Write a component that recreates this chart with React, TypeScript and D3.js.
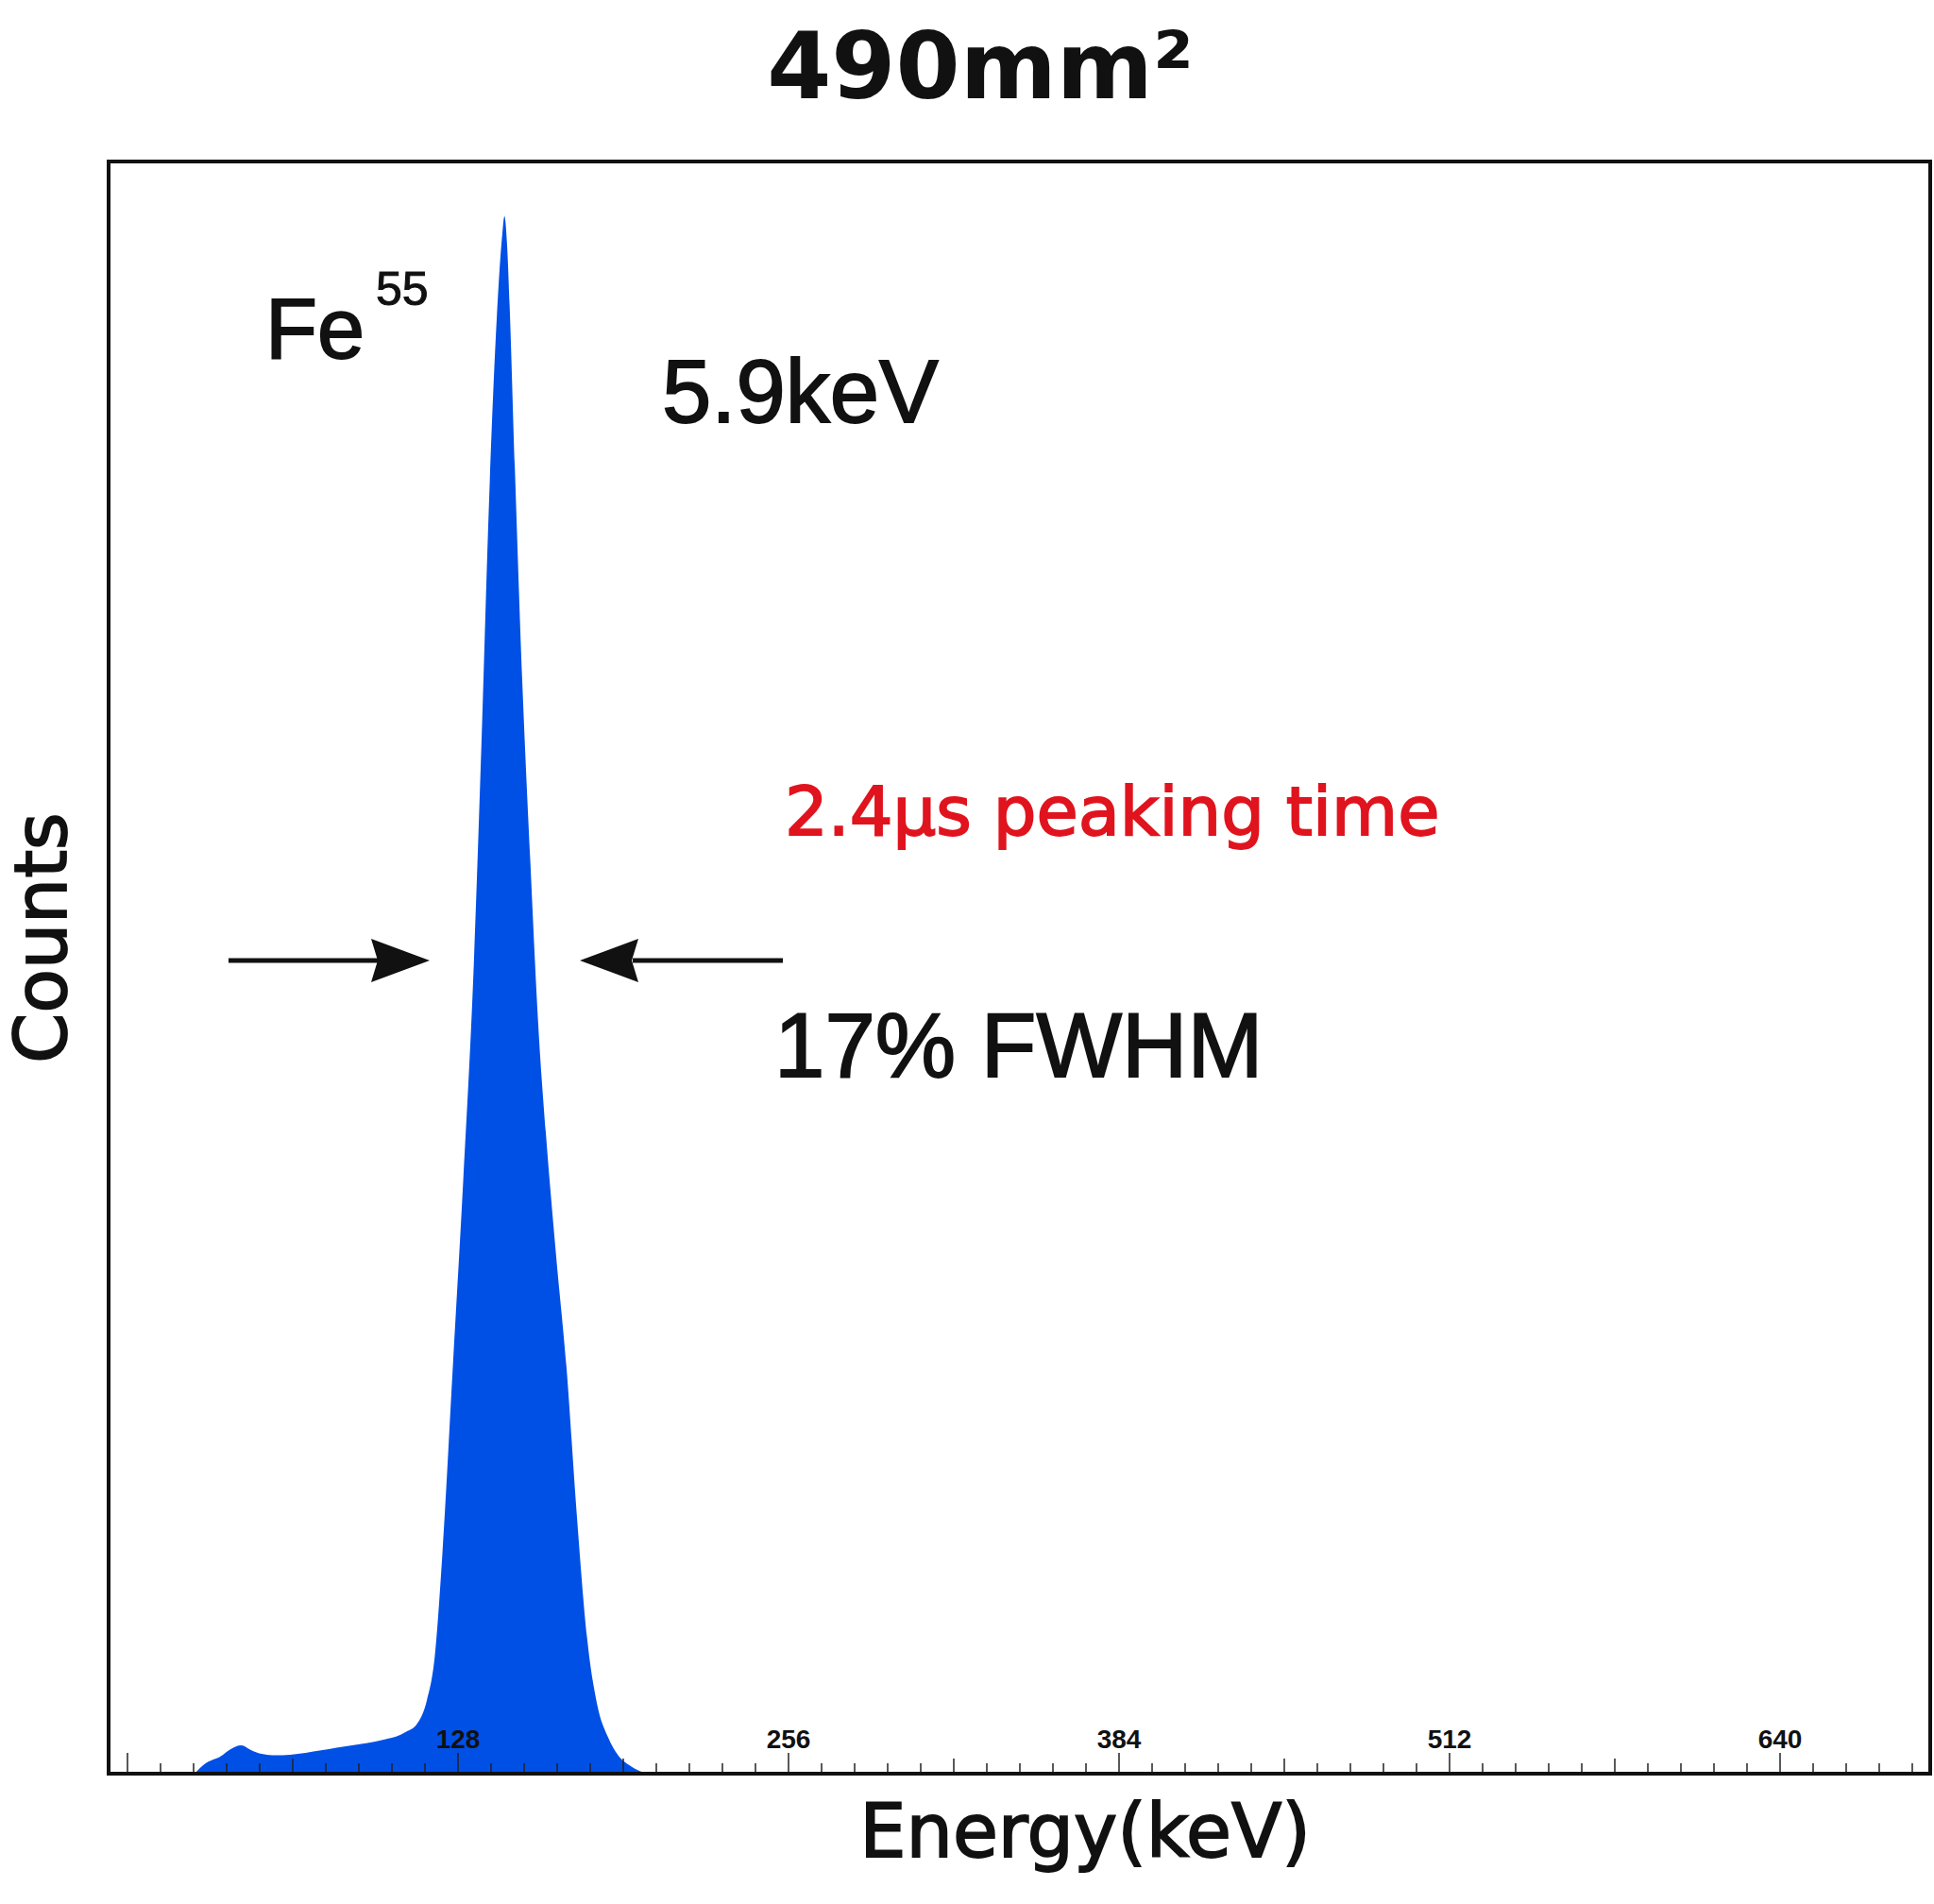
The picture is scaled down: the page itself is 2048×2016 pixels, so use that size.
import React from "react";
import * as d3 from "d3";

const channels = [26, 30, 36, 40, 44, 48, 52, 56, 60, 66, 72, 78, 84, 90, 96, 100, 104, 108, 112, 116, 119, 122, 126, 130, 134, 137, 140, 143, 145, 146, 147, 148, 150, 153, 156, 159, 162, 166, 170, 174, 178, 182, 186, 190, 195, 201];
const counts = [0, 8, 14, 20, 23, 19, 16, 15, 15, 16, 18, 20, 22, 24, 26, 28, 30, 34, 40, 60, 95, 180, 330, 480, 650, 830, 1030, 1180, 1245, 1263, 1240, 1190, 1060, 880, 740, 610, 520, 420, 330, 210, 110, 55, 30, 15, 6, 0];
const tickLabels = [128, 256, 384, 512, 640];

const W = 2048, H = 2016;
const L = 115, R = 2044, T = 171, B = 1878;

export default function App() {
  const x = d3.scaleLinear().domain([128, 256]).range([485, 835]);
  const y = d3.scaleLinear().domain([0, 1263]).range([B, 229]);
  const pts = channels.map((c, i) => [c, counts[i]] as [number, number]);
  const area = d3.area<[number, number]>().x(d => x(d[0])).y0(B).y1(d => y(d[1])).curve(d3.curveMonotoneX);
  const minor = d3.range(0, 699, 12.8).filter(v => x(v) > L + 2 && x(v) < R - 2);
  const font = "'DejaVu Sans', sans-serif";
  const arial = "'Liberation Sans', Arial, sans-serif";
  const thick = { stroke: "#111", strokeWidth: 1.8 };
  const ay = 1017;
  return (
    <svg width={W} height={H} style={{ position: "absolute", left: 0, top: 0, background: "#fff" }} xmlns="http://www.w3.org/2000/svg">
      <rect width={W} height={H} fill="#fff" />
      <text x={1038} y={104} textAnchor="middle" fontFamily={font} fontWeight="bold" fontSize={98} fill="#111">490mm²</text>
      <path d={area(pts) || ""} fill="#0050e6" />
      {minor.map((v, i) => {
        const k = Math.round(v / 12.8);
        const len = k % 10 === 0 ? 22 : k % 5 === 0 ? 16 : 11;
        return <line key={i} x1={x(v)} x2={x(v)} y1={B} y2={B - len} stroke="#222" strokeWidth={1.5} />;
      })}
      {tickLabels.map(t => (
        <text key={t} x={x(t)} y={1851} textAnchor="middle" fontFamily={arial} fontWeight="bold" fontSize={28} fill="#111">{t}</text>
      ))}
      <rect x={L} y={T} width={R - L} height={B - T} fill="none" stroke="#111" strokeWidth={4} />
      <text x={281} y={379} fontFamily={arial} fontSize={90} fill="#111" {...thick}>Fe</text>
      <text x={398} y={323} fontFamily={arial} fontSize={50} fill="#111" stroke="#111" strokeWidth={1}>55</text>
      <text x={701} y={447} fontFamily={arial} fontSize={94} fill="#111" {...thick}>5.9keV</text>
      <text x={831} y={884} fontFamily={font} fontSize={72} fill="#e0141e" stroke="#e0141e" strokeWidth={1.8}>2.4μs peaking time</text>
      <text x={820} y={1140} fontFamily={arial} fontSize={96} fill="#111" {...thick}>17% FWHM</text>
      <line x1={242} x2={400} y1={ay} y2={ay} stroke="#111" strokeWidth={5} />
      <path d={`M455,${ay} L393,${ay - 23} L400,${ay} L393,${ay + 23} Z`} fill="#111" />
      <line x1={829} x2={670} y1={ay} y2={ay} stroke="#111" strokeWidth={5} />
      <path d={`M614,${ay} L676,${ay - 23} L669,${ay} L676,${ay + 23} Z`} fill="#111" />
      <text transform={`translate(70,993) rotate(-90)`} textAnchor="middle" fontFamily={font} fontSize={76} fill="#111" {...thick}>Counts</text>
      <text x={1149} y={1966} textAnchor="middle" fontFamily={font} fontSize={78} fill="#111" {...thick}>Energy(keV)</text>
    </svg>
  );
}
